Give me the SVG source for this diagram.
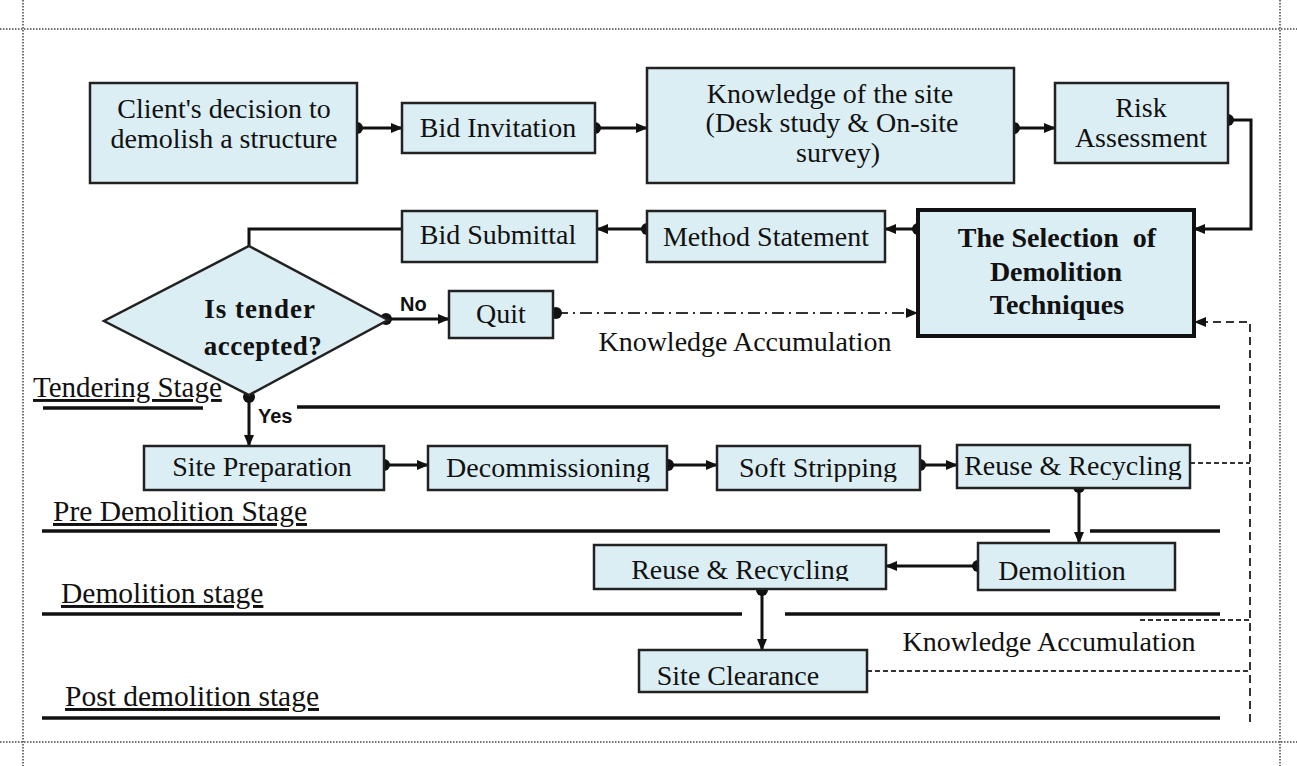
<svg xmlns="http://www.w3.org/2000/svg" width="1297" height="766" viewBox="0 0 1297 766">
<style>
.box{fill:#DBEEF4;stroke:#222;stroke-width:2.5}
.sel{fill:#DBEEF4;stroke:#111;stroke-width:4}
.t{font-family:"Liberation Serif","Times New Roman",serif;font-size:28px;fill:#111;text-anchor:middle}
.b{font-family:"Liberation Serif","Times New Roman",serif;font-size:28px;font-weight:bold;fill:#111;text-anchor:middle}
.s{font-family:"Liberation Sans",Arial,sans-serif;font-size:20px;font-weight:bold;fill:#111}
.stage{font-family:"Liberation Serif","Times New Roman",serif;font-size:29.5px;fill:#111;text-decoration:underline}
.c{fill:none;stroke:#111;stroke-width:3}
.dash{fill:none;stroke:#333;stroke-width:2;stroke-dasharray:8,5}
.dash2{fill:none;stroke:#333;stroke-width:2;stroke-dasharray:5,3}
.dd{fill:none;stroke:#333;stroke-width:2;stroke-dasharray:12,5,2,5}
.line{stroke:#111;stroke-width:3.5}
.page{fill:none;stroke:#444;stroke-width:1.5;stroke-dasharray:1.5,1.5}
</style>
<defs>
<marker id="arr" viewBox="0 0 12 10" refX="11" refY="5" markerWidth="12" markerHeight="10" markerUnits="userSpaceOnUse" orient="auto"><path d="M0,0 L12,5 L0,10 z" fill="#111"/></marker>
<marker id="dot" viewBox="0 0 12 12" refX="6" refY="6" markerWidth="12" markerHeight="12" markerUnits="userSpaceOnUse"><circle cx="6" cy="6" r="6" fill="#111"/></marker>
<clipPath id="cp1"><rect x="428" y="446" width="239" height="36"/></clipPath>
<clipPath id="cp2"><rect x="717" y="446" width="203" height="36"/></clipPath>
<clipPath id="cp3"><rect x="957" y="445" width="233" height="35"/></clipPath>
<clipPath id="cp4"><rect x="594" y="545" width="292" height="36"/></clipPath>
</defs>

<!-- page border -->
<g id="page">
<line class="page" x1="0" y1="29" x2="1297" y2="29"/>
<line class="page" x1="0" y1="742" x2="1297" y2="742"/>
<line class="page" x1="23" y1="0" x2="23" y2="766"/>
<line class="page" x1="1280" y1="0" x2="1280" y2="766"/>
</g>

<!-- stage separators and labels -->
<g id="stages">
<line class="line" x1="43" y1="408" x2="203" y2="408"/>
<line class="line" x1="297" y1="407" x2="1220" y2="407"/>
<line class="line" x1="42" y1="531" x2="1050" y2="531"/>
<line class="line" x1="1090" y1="531" x2="1220" y2="531"/>
<line class="line" x1="42" y1="614" x2="742" y2="614"/>
<line class="line" x1="785" y1="614" x2="1220" y2="614"/>
<line class="line" x1="42" y1="718" x2="1220" y2="718"/>
<text class="stage" x="33" y="397" style="font-size:29px">Tendering Stage</text>
<text class="stage" x="53" y="521">Pre Demolition Stage</text>
<text class="stage" x="61" y="603">Demolition stage</text>
<text class="stage" x="65" y="706">Post demolition stage</text>
</g>

<g id="connectors">
<path class="c" d="M357,128 L402,128" marker-start="url(#dot)" marker-end="url(#arr)"/>
<path class="c" d="M595,128 L647,128" marker-start="url(#dot)" marker-end="url(#arr)"/>
<path class="c" d="M1014,128 L1055,128" marker-start="url(#dot)" marker-end="url(#arr)"/>
<path class="c" d="M1228,120 L1251,120 L1251,229 L1194,229" marker-start="url(#dot)" marker-end="url(#arr)"/>
<path class="c" d="M918,229 L885,229" marker-start="url(#dot)" marker-end="url(#arr)"/>
<path class="c" d="M647,229 L597,229" marker-start="url(#dot)" marker-end="url(#arr)"/>
<path class="c" d="M402,229 L249,229 L249,246"/>
<path class="c" d="M386,319 L449,319" marker-start="url(#dot)" marker-end="url(#arr)"/>
<path class="dd" d="M556,313 L917,313" marker-start="url(#dot)" marker-end="url(#arr)"/>
<path class="c" d="M249,397 L249,446" marker-start="url(#dot)" marker-end="url(#arr)"/>
<path class="c" d="M384,465 L428,465" marker-start="url(#dot)" marker-end="url(#arr)"/>
<path class="c" d="M668,465 L717,465" marker-start="url(#dot)" marker-end="url(#arr)"/>
<path class="c" d="M920,465 L957,465" marker-start="url(#dot)" marker-end="url(#arr)"/>
<path class="c" d="M1079,487 L1079,543" marker-start="url(#dot)" marker-end="url(#arr)"/>
<path class="c" d="M978,566 L886,566" marker-start="url(#dot)" marker-end="url(#arr)"/>
<path class="c" d="M762,590 L762,650" marker-start="url(#dot)" marker-end="url(#arr)"/>
<path class="dash" d="M1250,722 L1250,322 L1195,322" marker-end="url(#arr)"/>
<path class="dash2" d="M1190,463 L1250,463"/>
<path class="dash2" d="M1140,620 L1250,620"/>
<path class="dash2" d="M867,671 L1250,671"/>
<text class="s" x="400" y="311">No</text>
<text class="s" x="258" y="423">Yes</text>
<text class="t" x="745" y="351">Knowledge Accumulation</text>
<text class="t" x="1049" y="651">Knowledge Accumulation</text>
</g>

<g id="client">
<rect class="box" x="90" y="83" width="267" height="100"/>
<text class="t" x="224" y="118">Client's decision to</text>
<text class="t" x="224" y="148">demolish a structure</text>
</g>
<g id="bid-invitation">
<rect class="box" x="402" y="103" width="193" height="50"/>
<text class="t" x="498" y="137">Bid Invitation</text>
</g>
<g id="knowledge-site">
<rect class="box" x="647" y="68" width="367" height="115"/>
<text class="t" x="830" y="103">Knowledge of the site</text>
<text class="t" x="832" y="132">(Desk study &amp; On-site</text>
<text class="t" x="838" y="162">survey)</text>
</g>
<g id="risk">
<rect class="box" x="1055" y="83" width="173" height="80"/>
<text class="t" x="1141" y="117">Risk</text>
<text class="t" x="1141" y="147">Assessment</text>
</g>
<g id="selection">
<rect class="sel" x="918" y="210" width="276" height="126"/>
<text class="b" x="1057" y="247" xml:space="preserve">The Selection  of</text>
<text class="b" x="1056" y="281">Demolition</text>
<text class="b" x="1057" y="314">Techniques</text>
</g>
<g id="method">
<rect class="box" x="647" y="211" width="238" height="51"/>
<text class="t" x="766" y="246">Method Statement</text>
</g>
<g id="bid-submittal">
<rect class="box" x="402" y="211" width="195" height="51"/>
<text class="t" x="498" y="244">Bid Submittal</text>
</g>
<g id="decision">
<polygon class="box" points="249,246 388,320 249,395 104,321"/>
<text class="b" x="260" y="318" style="font-size:27px;letter-spacing:1px">Is tender</text>
<text class="b" x="263" y="355" style="font-size:27px;letter-spacing:0.5px">accepted?</text>
</g>
<g id="quit">
<rect class="box" x="449" y="291" width="104" height="47"/>
<text class="t" x="501" y="323">Quit</text>
</g>
<g id="site-preparation">
<rect class="box" x="144" y="446" width="240" height="44"/>
<text class="t" x="262" y="476">Site Preparation</text>
</g>
<g id="decommissioning">
<rect class="box" x="428" y="446" width="239" height="44"/>
<text class="t" x="548" y="477" clip-path="url(#cp1)">Decommissioning</text>
</g>
<g id="soft-stripping">
<rect class="box" x="717" y="446" width="203" height="44"/>
<text class="t" x="818" y="477" clip-path="url(#cp2)">Soft Stripping</text>
</g>
<g id="reuse1">
<rect class="box" x="957" y="445" width="233" height="43"/>
<text class="t" x="1073" y="475" clip-path="url(#cp3)">Reuse &amp; Recycling</text>
</g>
<g id="demolition">
<rect class="box" x="978" y="543" width="197" height="47"/>
<text class="t" x="1062" y="580">Demolition</text>
</g>
<g id="reuse2">
<rect class="box" x="594" y="545" width="292" height="44"/>
<text class="t" x="740" y="579" clip-path="url(#cp4)">Reuse &amp; Recycling</text>
</g>
<g id="site-clearance">
<rect class="box" x="639" y="650" width="228" height="42"/>
<text class="t" x="738" y="685">Site Clearance</text>
</g>
</svg>
